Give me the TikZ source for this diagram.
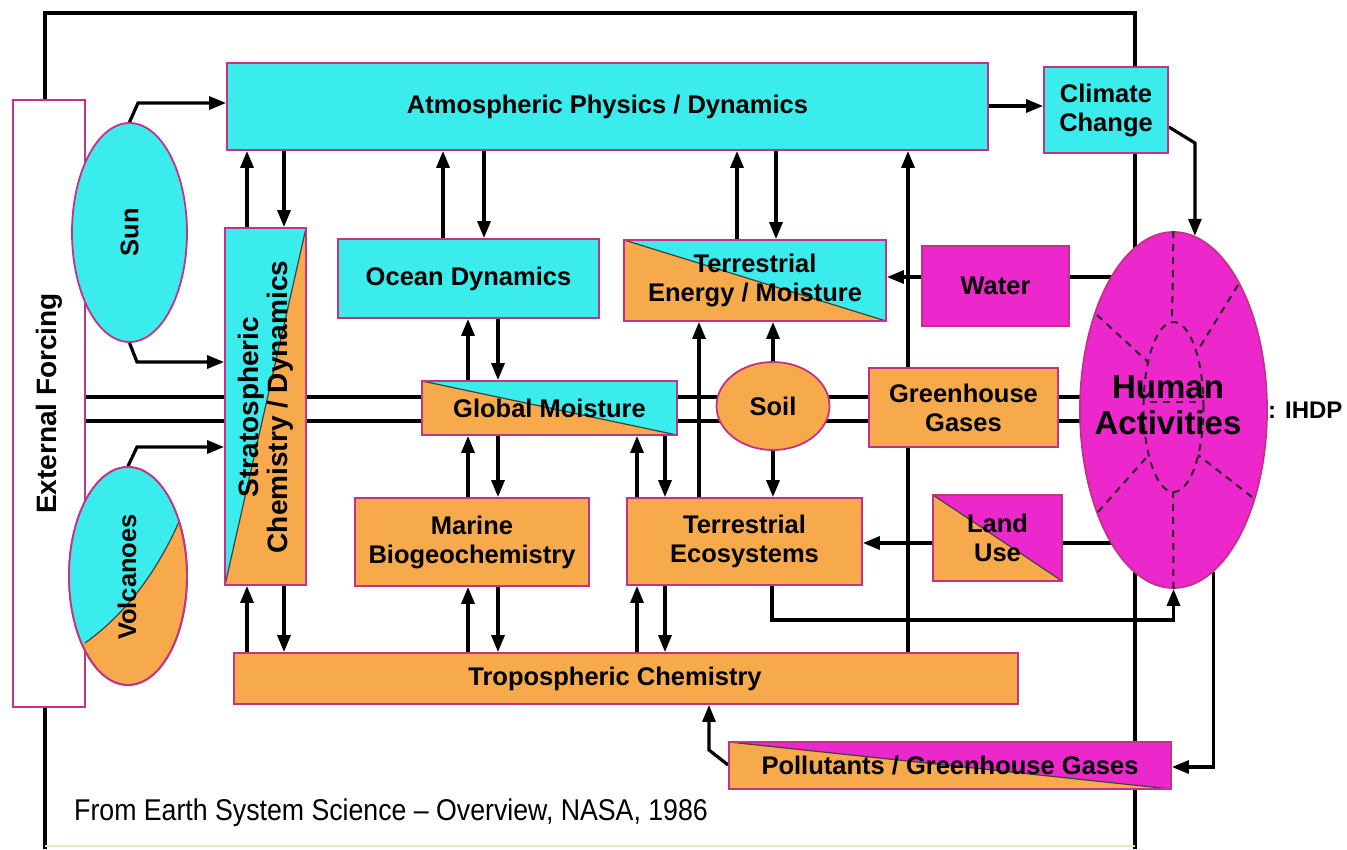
\documentclass[tikz,border=0pt]{standalone}
\usepackage{fontspec}
\setmainfont{Liberation Sans}
\newfontfamily\capfont[FakeStretch=0.89]{Liberation Sans}
\usetikzlibrary{arrows.meta,shapes.geometric}
\definecolor{cyanc}{RGB}{58,236,236}
\definecolor{orangec}{RGB}{246,170,76}
\definecolor{magc}{RGB}{236,40,204}
\definecolor{bordc}{RGB}{195,50,135}
\definecolor{palec}{RGB}{225,235,185}
\pgfdeclarelayer{bg}
\pgfsetlayers{bg,main}
\begin{document}
\begin{tikzpicture}[x=1pt,y=-1pt,
  box/.style={rectangle, draw=bordc, line width=1.8pt, inner sep=0pt, align=center, font=\bfseries\fontsize{25.5}{29}\selectfont},
  ell/.style={ellipse, draw=bordc, line width=1.8pt, inner sep=0pt, font=\bfseries\fontsize{25.5}{29}\selectfont},
  lbl/.style={inner sep=0pt, align=center, font=\bfseries\fontsize{25.5}{29}\selectfont},
  conn/.style={line width=3.2pt, draw=black},
  arr/.style={conn, -{Triangle[length=17pt,width=13pt]}},
  sz/.style 2 args={minimum width=#1pt, minimum height=#2pt},
  tri/.style={path picture={\fill[#1] (path picture bounding box.north west) -- (path picture bounding box.north east) -- (path picture bounding box.south east) -- cycle; \draw[line width=1.2pt, black!75] (path picture bounding box.north west) -- (path picture bounding box.south east);}},
  strattri/.style={path picture={\fill[cyanc] (path picture bounding box.north west) -- (path picture bounding box.north east) -- (path picture bounding box.south west) -- cycle; \draw[line width=1.2pt, black!75] (path picture bounding box.north east) -- (path picture bounding box.south west);}},
  hdash/.style={line width=2pt, dash pattern=on 7pt off 6pt, draw=black!85},
]
\useasboundingbox (0,0) rectangle (1347,849);

% boxes
\node[box, fill=white, sz={72}{607}] (ext) at (49,403.5) {};
\node[lbl, rotate=90, font=\bfseries\fontsize{28}{31}\selectfont] (extt) at (ext.center) {External Forcing};

\node[ell, fill=cyanc, sz={115}{219}] (sun) at (129.5,232.5) {};
\node[lbl, rotate=90] (sunt) at (sun.center) {Sun};

\node[ell, fill=orangec, sz={118}{218}] (volc) at (128,576) {};
\begin{scope}
  \clip (volc.center) ellipse [x radius=59pt, y radius=109pt];
  \fill[cyanc] (40,660) -- (85,643) .. controls (110,625) and (150,590) .. (182,515) -- (200,500) -- (200,440) -- (40,440) -- cycle;
  \draw[line width=1.2pt, black!75] (85,643) .. controls (110,625) and (150,590) .. (182,515);
\end{scope}
\draw[bordc, line width=1.8pt] (volc.center) ellipse [x radius=59pt, y radius=109pt];
\node[lbl, rotate=90] (volct) at (127,577) {Volcanoes};

\node[box, fill=cyanc, sz={761}{87}] (atm) at (607.5,106.5) {Atmospheric Physics / Dynamics};
\node[box, fill=cyanc, sz={124}{86}] (clim) at (1106,110) {Climate\\Change};
\node[box, fill=orangec, sz={81}{357}, strattri] (strat) at (265.5,406.5) {};
\node[lbl, rotate=90, font=\bfseries\fontsize{28}{29}\selectfont] (stratt) at (266,407) {Stratospheric\\Chemistry / Dynamics};
\node[box, fill=cyanc, sz={261}{79}] (ocean) at (468.5,278.5) {Ocean Dynamics};
\node[box, fill=orangec, sz={262}{81}, tri=cyanc] (tem) at (755,280.5) {Terrestrial\\Energy / Moisture};
\node[box, fill=magc, sz={147}{80}] (water) at (995.5,286) {Water};
\node[box, fill=orangec, sz={189}{79}] (gg) at (963.5,407.5) {Greenhouse\\Gases};
\node[ell, fill=orangec, sz={113}{88}] (soil) at (773,406) {Soil};
\node[box, fill=orangec, sz={255}{54}, tri=cyanc] (gm) at (549.5,408) {Global Moisture};
\node[box, fill=orangec, sz={234}{88}] (marine) at (472,542) {Marine\\Biogeochemistry};
\node[box, fill=orangec, sz={235}{87}] (te) at (744.5,541.5) {Terrestrial\\Ecosystems};
\node[box, fill=orangec, sz={129}{86}, tri=magc] (land) at (997.5,538) {Land\\Use};
\node[box, fill=orangec, sz={784}{51}] (tropo) at (626,678.5) {};
\node[lbl] (tropot) at (615,678.5) {Tropospheric Chemistry};
\node[box, fill=orangec, sz={442}{47}, tri=magc] (poll) at (950,765.5) {Pollutants / Greenhouse Gases};

\node[ell, fill=magc, sz={187}{356}] (hum) at (1173.5,410) {};
\draw[hdash] (1173.5,407) ellipse [x radius=30pt, y radius=85pt];
\draw[hdash] (1150,402) -- (1200,402);
\draw[hdash] (hum.north) -- (1172,322);
\draw[hdash] (hum.south) -- (1173,492);
\draw[hdash] (1097,315) -- (1148,362);
\draw[hdash] (1238,285) -- (1198,350);
\draw[hdash] (1098,512) -- (1146,458);
\draw[hdash] (1252,497) -- (1198,455);
\node[lbl, font=\bfseries\fontsize{33}{36}\selectfont] (humt) at (1168,405) {Human\\Activities};
\node[lbl, anchor=west, font=\bfseries\fontsize{24}{28}\selectfont] (ihdp) at (1268,410) {: IHDP};

\node[inner sep=0pt, anchor=base west, font=\capfont\fontsize{30}{34}\selectfont] (cap) at (74,820) {From Earth System Science – Overview, NASA, 1986};

% connectors
\begin{pgfonlayer}{bg}
\draw[conn] (45,849) -- (45,13) -- (1135,13) -- (1135,849);
\draw[palec, line width=2.5pt] (45,846) -- (1135,846);
\draw[conn] (ext.east |- 0,397) -- (hum.center |- 0,397);
\draw[conn] (ext.east |- 0,421) -- (hum.center |- 0,421);

\draw[arr] (sun.north) -- (138,103) -- (atm.west |- 0,103);
\draw[arr] (sun.south) -- (137,362) -- (strat.west |- 0,362);
\draw[arr] (volc.north) -- (137,447) -- (strat.west |- 0,447);

\draw[arr] (strat.north -| 247,0) -- (atm.south -| 247,0);
\draw[arr] (atm.south -| 284,0) -- (strat.north -| 284,0);
\draw[arr] (tropo.north -| 247,0) -- (strat.south -| 247,0);
\draw[arr] (strat.south -| 284,0) -- (tropo.north -| 284,0);
\draw[arr] (ocean.north -| 443,0) -- (atm.south -| 443,0);
\draw[arr] (atm.south -| 484,0) -- (ocean.north -| 484,0);
\draw[arr] (gm.north -| 468,0) -- (ocean.south -| 468,0);
\draw[arr] (ocean.south -| 498,0) -- (gm.north -| 498,0);
\draw[arr] (marine.north -| 468,0) -- (gm.south -| 468,0);
\draw[arr] (gm.south -| 498,0) -- (marine.north -| 498,0);
\draw[arr] (tropo.north -| 468,0) -- (marine.south -| 468,0);
\draw[arr] (marine.south -| 498,0) -- (tropo.north -| 498,0);
\draw[arr] (te.north -| 637,0) -- (gm.south -| 637,0);
\draw[arr] (gm.south -| 665,0) -- (te.north -| 665,0);
\draw[arr] (tropo.north -| 637,0) -- (te.south -| 637,0);
\draw[arr] (te.south -| 665,0) -- (tropo.north -| 665,0);
\draw[arr] (tem.north -| 737,0) -- (atm.south -| 737,0);
\draw[arr] (atm.south -| 776,0) -- (tem.north -| 776,0);
\draw[arr] (te.north -| 699,0) -- (tem.south -| 699,0);
\draw[arr] (soil.north) -- (tem.south -| soil.north);
\draw[arr] (soil.south) -- (te.north -| soil.south);
\draw[arr] (tropo.north -| 908,0) -- (atm.south -| 908,0);

\draw[arr] (water.west |- 0,277) -- (tem.east |- 0,277);
\draw[conn] (water.east |- 0,277) -- (hum.center |- 0,277);
\draw[conn] (land.east |- 0,543) -- (hum.center |- 0,543);
\draw[arr] (land.west |- 0,543) -- (te.east |- 0,543);
\draw[arr] (atm.east |- 0,106) -- (clim.west |- 0,106);
\draw[arr] (clim.east |- 0,127) -- (hum.83.6 |- 0,143) -- (hum.83.6);
\draw[arr] (te.south -| 772,0) -- (772,620) -- (hum.south |- 0,620) -- (hum.south);
\draw[arr] (hum.-76.6) -- (hum.-76.6 |- 0,767) -- (poll.east |- 0,767);
\draw[arr] (poll.west |- 0,765) -- (709,750) -- (tropo.south -| 709,0);
\end{pgfonlayer}
\end{tikzpicture}
\end{document}
